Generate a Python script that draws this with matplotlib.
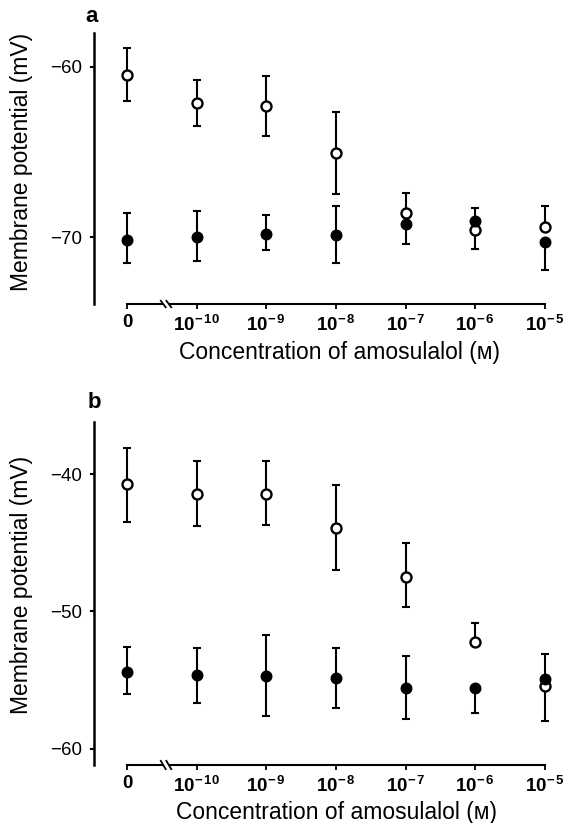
import matplotlib
matplotlib.use("Agg")
import matplotlib.pyplot as plt
from matplotlib.transforms import blended_transform_factory
from matplotlib.patches import Rectangle

plt.rcParams['font.family'] = ['Liberation Sans', 'DejaVu Sans']
plt.rcParams['mathtext.fontset'] = 'custom'
plt.rcParams['mathtext.rm'] = 'Liberation Sans'
plt.rcParams['mathtext.bf'] = 'Liberation Sans:bold'
plt.rcParams['axes.unicode_minus'] = True

# ---------------- data ----------------
positions = [0, 1, 2, 3, 4, 5, 6]
tick_labels = ['0', r'$\mathbf{10^{-\,10}}$', r'$\mathbf{10^{-\,9}}$', r'$\mathbf{10^{-\,8}}$',
               r'$\mathbf{10^{-\,7}}$', r'$\mathbf{10^{-\,6}}$', r'$\mathbf{10^{-\,5}}$']

# Panel a
open_a = [-60.50, -62.15, -62.28, -65.06, -68.60, -69.56, -69.37]
open_a_up = [1.61, 1.35, 1.73, 2.39, 1.20, 0.0, 1.20]
open_a_dn = [1.51, 1.33, 1.76, 2.38, 0.0, 1.14, 0.0]
filled_a = [-70.14, -69.96, -69.83, -69.85, -69.24, -69.04, -70.29]
filled_a_up = [1.54, 1.50, 1.14, 1.70, 0.0, 0.78, 0.0]
filled_a_dn = [1.37, 1.41, 0.93, 1.64, 1.17, 0.0, 1.65]

# Panel b
open_b = [-40.75, -41.48, -41.46, -43.96, -47.48, -52.21, -55.41]
open_b_up = [2.67, 2.40, 2.38, 3.18, 2.46, 1.38, 0.0]
open_b_dn = [2.72, 2.31, 2.25, 3.06, 2.18, 0.0, 2.58]
filled_b = [-54.39, -54.66, -54.73, -54.83, -55.61, -55.61, -54.90]
filled_b_up = [1.79, 1.97, 3.03, 2.16, 2.33, 0.0, 1.79]
filled_b_dn = [1.63, 2.04, 2.89, 2.18, 2.25, 1.77, 0.0]

W, H = 572, 823
fig = plt.figure(figsize=(W / 100, H / 100), dpi=100)

def px_rect(left, top, right, bottom):
    return [left / W, 1 - bottom / H, (right - left) / W, (bottom - top) / H]

ax_a = fig.add_axes(px_rect(93.5, 33, 560, 304))
ax_b = fig.add_axes(px_rect(93.5, 421.7, 560, 765))

def style(ax, ylim, yticks):
    ax.set_xlim(-0.481, 6.215)
    ax.set_ylim(*ylim)
    for s in ['top', 'right']:
        ax.spines[s].set_visible(False)
    ax.spines['left'].set_linewidth(1.8)
    ax.spines['bottom'].set_linewidth(1.5)
    ax.spines['bottom'].set_bounds(positions[0], positions[-1])
    ax.set_yticks(yticks)
    ax.set_yticklabels([f'\u2212{abs(v)}' for v in yticks])
    ax.set_xticks(positions)
    ax.set_xticklabels(tick_labels)
    ax.tick_params(axis='y', direction='out', length=3, width=1.5, pad=5, labelsize=13.5)
    ax.tick_params(axis='x', direction='out', length=3.5, width=1.3, pad=4, labelsize=13.5)
    for lab in ax.get_xticklabels():
        lab.set_fontweight('bold')
    # axis break
    tr = blended_transform_factory(ax.transData, ax.transAxes)
    xb = 0.56
    ax.add_patch(Rectangle((xb - 0.045, -0.012), 0.09, 0.024, transform=tr,
                           facecolor='white', edgecolor='none', clip_on=False, zorder=5))
    for dx in (-0.04, 0.04):
        ax.plot([xb + dx - 0.035, xb + dx + 0.035], [0.012, -0.012], transform=tr,
                color='black', lw=1.3, clip_on=False, zorder=6)

def draw(ax, o, ou, od, f, fu, fd):
    ekw = dict(fmt='none', ecolor='black', elinewidth=1.5, capsize=3, capthick=1.5)
    ax.errorbar(positions, o, yerr=[od, ou], zorder=2, **ekw)
    ax.errorbar(positions, f, yerr=[fd, fu], zorder=2, **ekw)
    ax.plot(positions, o, 'o', ms=7.2, mfc='white', mec='black', mew=1.7, ls='none', zorder=3)
    ax.plot(positions, f, 'o', ms=7.6, mfc='black', mec='black', mew=1.0, ls='none', zorder=4)

style(ax_a, (-73.91, -58.02), [-60, -70])
style(ax_b, (-61.19, -36.19), [-40, -50, -60])
draw(ax_a, open_a, open_a_up, open_a_dn, filled_a, filled_a_up, filled_a_dn)
draw(ax_b, open_b, open_b_up, open_b_dn, filled_b, filled_b_up, filled_b_dn)

def ftext(x, y, s, **kw):
    fig.text(x / W, 1 - y / H, s, **kw)

ylab = 'Membrane potential (mV)'
xlab = 'Concentration of amosulalol (\u1d0d)'
ftext(22, 161.5, ylab, rotation=90, ha='center', va='center', fontsize=16.5)
ftext(22, 585, ylab, rotation=90, ha='center', va='center', fontsize=16.5)
ftext(339, 352, xlab, ha='center', va='center', fontsize=16.5)
ftext(336, 813, xlab, ha='center', va='center', fontsize=16.5)
ftext(92, 16, 'a', ha='center', va='center', fontsize=16, fontweight='bold')
ftext(94, 403, 'b', ha='center', va='center', fontsize=16, fontweight='bold')

fig.savefig('out.png', dpi=100)
